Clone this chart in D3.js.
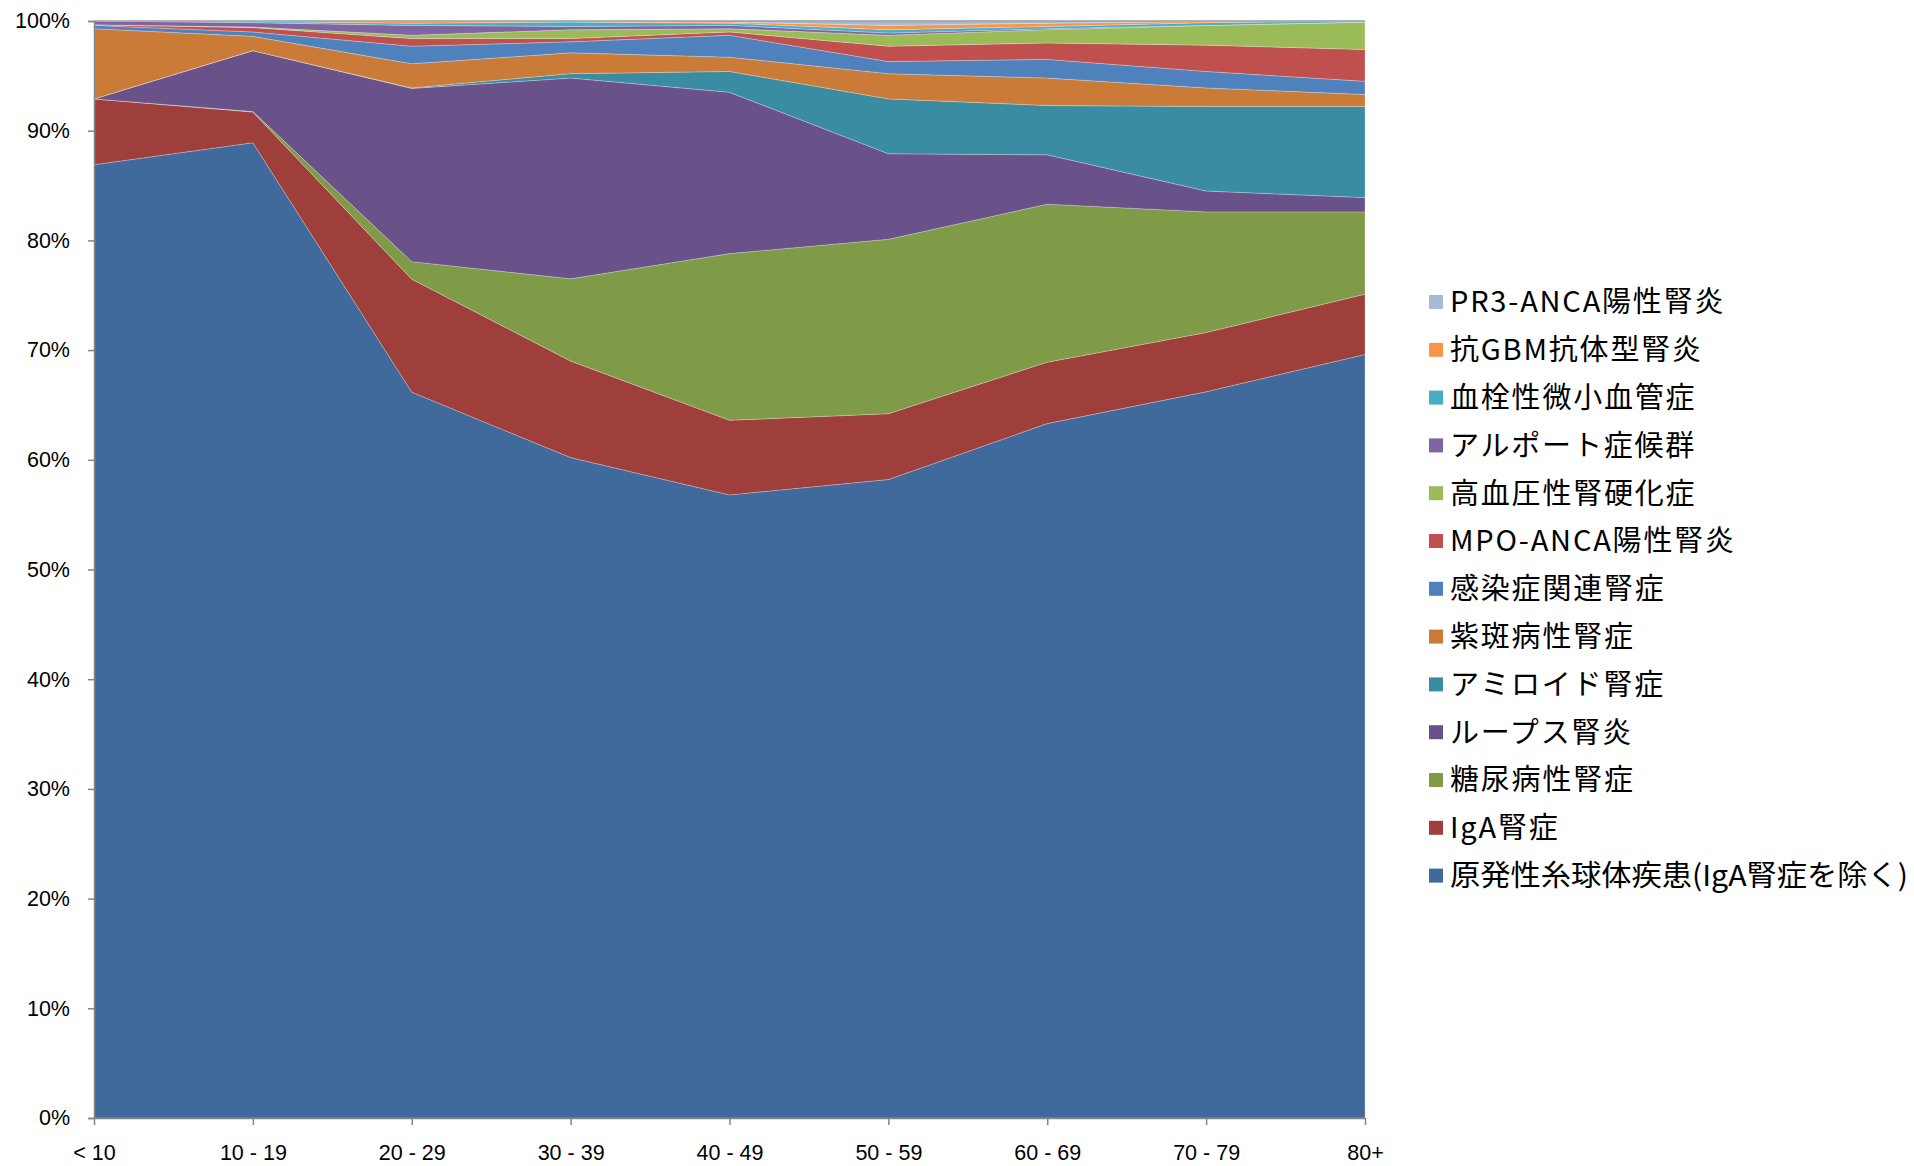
<!DOCTYPE html>
<html>
<head>
<meta charset="utf-8">
<script src="https://cdn.jsdelivr.net/npm/d3@7"></script>
<style>
  body { margin: 0; background: #fff; }
  .axis text { font-family: "Liberation Sans", Arial, sans-serif; font-size: 21.5px; fill: #000; }
  .axis path, .axis line { stroke: #868686; stroke-width: 1.5; }
  .legend text { font-family: "Noto Sans CJK JP", sans-serif; font-size: 29px; fill: #000; }
</style>
</head>
<body>
<div id="chart-area"></div>
<script>
// age groups
var ageGroups = ["< 10", "10 - 19", "20 - 29", "30 - 39", "40 - 49", "50 - 59", "60 - 69", "70 - 79", "80+"];

// series, bottom of the stack first (percent of each age group)
var primaryGN   = [86.9, 88.9, 66.2, 60.2, 56.8, 58.2, 63.3, 66.2, 69.6];
var igaN        = [6.0, 2.8, 10.3, 8.8, 6.8, 6.0, 5.6, 5.4, 5.5];
var diabeticN   = [0, 0.05, 1.6, 7.5, 15.2, 15.9, 14.4, 11.0, 7.5];
var lupusN      = [0, 5.55, 15.8, 18.3, 14.7, 7.8, 4.5, 1.9, 1.3];
var amyloidN    = [0, 0, 0.05, 0.4, 1.9, 5.0, 4.5, 7.7, 8.3];
var purpuraN    = [6.4, 1.3, 2.2, 1.9, 1.3, 2.3, 2.5, 1.7, 1.1];
var infectionN  = [0.3, 0.4, 1.6, 1.0, 2.0, 1.1, 1.7, 1.5, 1.2];
var mpoAnca     = [0.05, 0.4, 0.7, 0.3, 0.3, 1.4, 1.5, 2.4, 2.9];
var hypertenN   = [0, 0.05, 0.3, 0.8, 0.3, 1.0, 1.2, 1.8, 2.5];
var alport      = [0.35, 0.4, 0.9, 0.3, 0.3, 0.2, 0.1, 0, 0];
var thromboMA   = [0, 0.1, 0.2, 0.4, 0.2, 0.3, 0.2, 0.25, 0.1];
var antiGBM     = [0, 0.05, 0.15, 0.05, 0.1, 0.4, 0.3, 0.1, 0];
var pr3Anca     = [0, 0, 0.05, 0.05, 0.1, 0.4, 0.2, 0.05, 0];

var seriesNames = ["原発性糸球体疾患(IgA腎症を除く)", "IgA腎症", "糖尿病性腎症", "ループス腎炎", "アミロイド腎症",
    "紫斑病性腎症", "感染症関連腎症", "MPO-ANCA陽性腎炎", "高血圧性腎硬化症", "アルポート症候群",
    "血栓性微小血管症", "抗GBM抗体型腎炎", "PR3-ANCA陽性腎炎"];
var seriesValues = [primaryGN, igaN, diabeticN, lupusN, amyloidN, purpuraN, infectionN, mpoAnca,
    hypertenN, alport, thromboMA, antiGBM, pr3Anca];
var seriesColors = ["#3F6A9B", "#9E3F3C", "#7F9B47", "#69518A", "#3A8CA2", "#CB7B38", "#4F81BD",
    "#C0504D", "#9BBB59", "#8064A2", "#4BACC6", "#F79646", "#A9B9D8"];

var width = 1914, height = 1166;
var plotLeft = 94, plotRight = 1365, plotTop = 21, plotBottom = 1118;

var svg = d3.select("#chart-area").append("svg")
    .attr("width", width)
    .attr("height", height);

// table for d3.stack, normalised to 100%
var table = ageGroups.map(function(g, i) {
    var row = { group: g };
    var total = d3.sum(seriesValues, function(s) { return s[i]; });
    seriesNames.forEach(function(name, k) {
        row[name] = seriesValues[k][i] / total;
    });
    return row;
});

var stack = d3.stack().keys(seriesNames);
var layers = stack(table);

var x = d3.scalePoint()
    .domain(ageGroups)
    .range([plotLeft, plotRight]);

var y = d3.scaleLinear()
    .domain([0, 1])
    .range([plotBottom, plotTop]);

var area = d3.area()
    .x(function(d) { return x(d.data.group); })
    .y0(function(d) { return y(d[0]); })
    .y1(function(d) { return y(d[1]); });

svg.append("g").selectAll("path")
    .data(layers)
    .enter()
    .append("path")
    .attr("d", area)
    .attr("fill", function(d, i) { return seriesColors[i]; })
    .attr("stroke", "rgba(255,255,255,0.35)")
    .attr("stroke-width", 0.7);

// top border of the plot
svg.append("line")
    .attr("x1", plotLeft).attr("x2", plotRight)
    .attr("y1", plotTop).attr("y2", plotTop)
    .attr("stroke", "#9a9a9a")
    .attr("stroke-width", 1.5);

// Y AXIS
var yAxis = d3.axisLeft(y)
    .tickValues(d3.range(0, 11).map(function(v) { return v / 10; }))
    .tickFormat(d3.format(".0%"))
    .tickSize(6)
    .tickPadding(18);

svg.append("g")
    .attr("class", "axis")
    .attr("transform", "translate(" + plotLeft + ",0)")
    .call(yAxis);

// X AXIS
var xAxis = d3.axisBottom(x)
    .tickSize(7)
    .tickSizeOuter(0)
    .tickPadding(20);

svg.append("g")
    .attr("class", "axis")
    .attr("transform", "translate(0," + plotBottom + ")")
    .call(xAxis);

// LEGEND, top entry is the top layer
var legend = svg.append("g").attr("class", "legend");
var legendItems = seriesNames.map(function(n, i) { return i; }).reverse();
var maxTextWidth = 458;

legendItems.forEach(function(k, row) {
    var ly = 302 + row * 47.8;
    legend.append("rect")
        .attr("x", 1429)
        .attr("y", ly - 7)
        .attr("width", 14)
        .attr("height", 14)
        .attr("fill", seriesColors[k]);
    var t = legend.append("text")
        .attr("x", 1450)
        .attr("y", ly)
        .attr("dy", "0.36em")
        .style("letter-spacing", "1.8px")
        .text(seriesNames[k]);
    // squeeze the long label so it stays inside the page
    if (t.node().getComputedTextLength() > maxTextWidth) {
        t.style("letter-spacing", "0px")
            .attr("textLength", maxTextWidth)
            .attr("lengthAdjust", "spacingAndGlyphs");
    }
});
</script>
</body>
</html>
